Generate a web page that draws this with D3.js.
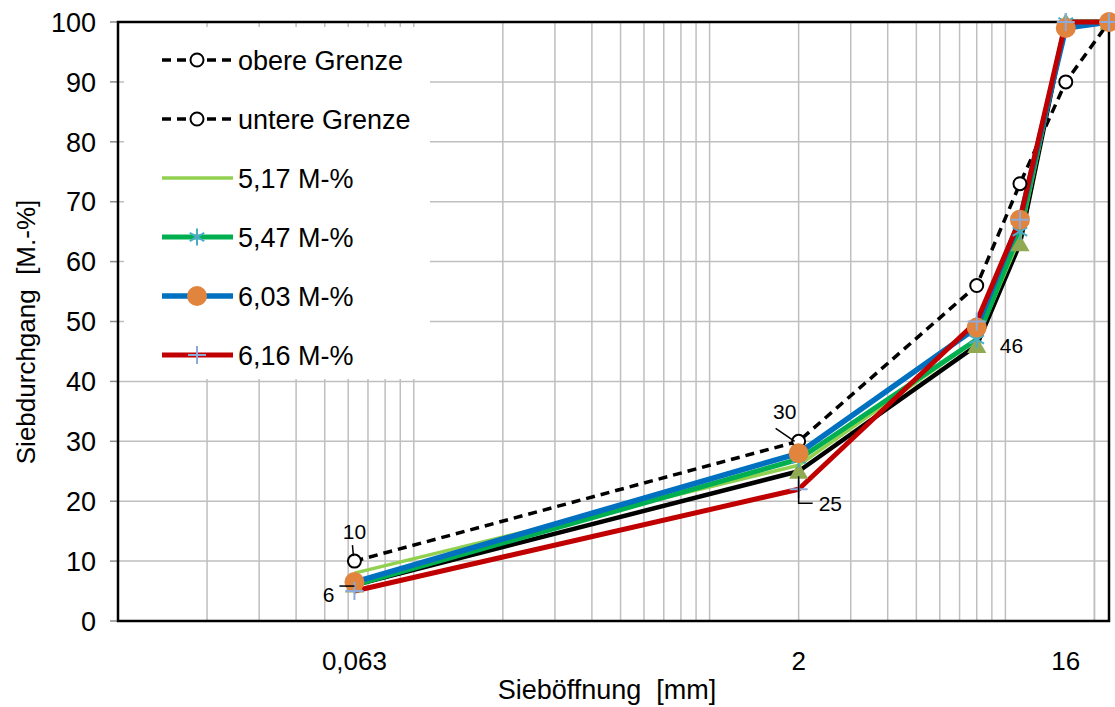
<!DOCTYPE html>
<html>
<head>
<meta charset="utf-8">
<script src="https://cdn.jsdelivr.net/npm/d3@7"></script>
<style>
  body { margin: 0; background: #fff; }
  text { font-family: "Liberation Sans", Arial, sans-serif; fill: #000; }
</style>
</head>
<body>
<div id="chart"></div>
<script>
// sieve sizes [mm] and passing [M.-%]
const sieves = [0.063, 2, 8, 11.2, 16, 22.4];
const obereGrenze = [10, 30, 56, 73, 90, 100];
const untereGrenze = [6, 25, 46, 63, 100, 100];
const s517 = [8, 26, 47, 64, 100, 100];
const s547 = [6, 27, 47, 65, 100, 100];
const s603 = [6.5, 28, 49, 67, 99, 100];
const s616 = [5, 22, 50, 67, 100, 100];
const xTickValues = [0.063, 2, 16];
const xTickLabels = ["0,063", "2", "16"];
const yTickValues = d3.range(0, 101, 10);

const width = 1115, height = 707;
const margin = { left: 118, right: 6, top: 22, bottom: 86 };

const svg = d3.select("#chart").append("svg")
  .attr("width", width)
  .attr("height", height);

const x = d3.scaleLog()
  .domain([0.01, 22.4])
  .range([margin.left, width - margin.right]);
const y = d3.scaleLinear()
  .domain([0, 100])
  .range([height - margin.bottom, margin.top]);

// gridlines
const minor = [];
[0.01, 0.1, 1, 10].forEach(dec => {
  for (let k = 1; k <= 9; k++) {
    const v = +(dec * k).toPrecision(3);
    if (v > 0.01 && v < 22.4) minor.push(v);
  }
});
minor.push(20);

svg.append("g").selectAll("line")
  .data(minor)
  .enter().append("line")
  .attr("x1", d => x(d)).attr("x2", d => x(d))
  .attr("y1", y(0)).attr("y2", y(100))
  .attr("stroke", "#bfbfbf").attr("stroke-width", 1.5);

svg.append("g").selectAll("line")
  .data(yTickValues.filter(d => d > 0 && d < 100))
  .enter().append("line")
  .attr("x1", x.range()[0]).attr("x2", x.range()[1])
  .attr("y1", d => y(d)).attr("y2", d => y(d))
  .attr("stroke", "#bfbfbf").attr("stroke-width", 1.5);

// y ticks and labels
svg.append("g").selectAll("line")
  .data(yTickValues)
  .enter().append("line")
  .attr("x1", margin.left - 8).attr("x2", margin.left)
  .attr("y1", d => y(d)).attr("y2", d => y(d))
  .attr("stroke", "#8c8c8c").attr("stroke-width", 1.5);

svg.append("g").selectAll("text")
  .data(yTickValues)
  .enter().append("text")
  .attr("x", 96)
  .attr("y", d => y(d))
  .attr("dy", "0.36em")
  .attr("text-anchor", "end")
  .attr("font-size", "27px")
  .text(d => d);

// x labels
svg.append("g").selectAll("text")
  .data(xTickValues)
  .enter().append("text")
  .attr("x", d => x(d))
  .attr("y", 670)
  .attr("text-anchor", "middle")
  .attr("font-size", "26px")
  .text((d, i) => xTickLabels[i]);

// plot border
svg.append("rect")
  .attr("x", x.range()[0]).attr("y", y(100))
  .attr("width", x.range()[1] - x.range()[0])
  .attr("height", y(0) - y(100))
  .attr("fill", "none")
  .attr("stroke", "#000").attr("stroke-width", 2.5);

// axis titles
svg.append("text")
  .attr("x", 607).attr("y", 699)
  .attr("text-anchor", "middle")
  .attr("font-size", "27px")
  .style("white-space", "pre")
  .text("Sieböffnung  [mm]");

svg.append("text")
  .attr("transform", "translate(35,332) rotate(-90)")
  .attr("text-anchor", "middle")
  .attr("font-size", "26px")
  .style("white-space", "pre")
  .text("Siebdurchgang  [M.-%]");

// legend background
svg.append("rect")
  .attr("x", 124).attr("y", 27)
  .attr("width", 306).attr("height", 352)
  .attr("fill", "#fff");

const line = d3.line()
  .x(d => x(d[0]))
  .y(d => y(d[1]));

const zip = vals => sieves.map((s, i) => [s, vals[i]]);

const triangle = d3.symbol().type(d3.symbolTriangle).size(160);
const star = d3.symbol().type(d3.symbolAsterisk).size(200);

function drawMarker(g, kind, cx, cy) {
  if (kind === "openCircle") {
    g.append("circle").attr("cx", cx).attr("cy", cy).attr("r", 6.5)
      .attr("fill", "#fff").attr("stroke", "#000").attr("stroke-width", 2);
  } else if (kind === "triangle") {
    g.append("path").attr("d", triangle)
      .attr("transform", `translate(${cx},${cy + 2})`)
      .attr("fill", "#8faa52");
  } else if (kind === "star") {
    g.append("path").attr("d", star)
      .attr("transform", `translate(${cx},${cy})`)
      .attr("fill", "none").attr("stroke", "#4bacc6").attr("stroke-width", 2);
  } else if (kind === "orange") {
    g.append("circle").attr("cx", cx).attr("cy", cy).attr("r", 10)
      .attr("fill", "#e0843e");
  } else if (kind === "cross") {
    g.append("path").attr("d", `M${cx - 9},${cy}H${cx + 9}M${cx},${cy - 9}V${cy + 9}`)
      .attr("stroke", "#8eaad8").attr("stroke-width", 2);
  }
}

const series = [
  { name: "obere Grenze", vals: obereGrenze, color: "#000", w: 3.5, dash: "9,6", marker: "openCircle", legendDash: true },
  { name: "untere Grenze", vals: untereGrenze, color: "#000", w: 4.5, dash: null, marker: "triangle", legendDash: true },
  { name: "5,17 M-%", vals: s517, color: "#92d050", w: 3.5, dash: null, marker: null },
  { name: "5,47 M-%", vals: s547, color: "#00b050", w: 5, dash: null, marker: "star" },
  { name: "6,03 M-%", vals: s603, color: "#0070c0", w: 5.5, dash: null, marker: "orange" },
  { name: "6,16 M-%", vals: s616, color: "#c00000", w: 5, dash: null, marker: "cross" }
];

const plot = svg.append("g");
series.forEach(s => {
  plot.append("path")
    .datum(zip(s.vals))
    .attr("d", line)
    .attr("fill", "none")
    .attr("stroke", s.color)
    .attr("stroke-width", s.w)
    .attr("stroke-linejoin", "round")
    .attr("stroke-dasharray", s.dash);
});
series.forEach(s => {
  if (!s.marker) return;
  zip(s.vals).forEach(d => drawMarker(plot, s.marker, x(d[0]), y(d[1])));
});

// data labels
const labels = svg.append("g");
const lab = (t, lx, ly, anchor) => labels.append("text")
  .attr("x", lx).attr("y", ly).attr("text-anchor", anchor || "start")
  .attr("font-size", "21px").text(t);
const leader = pts => labels.append("path")
  .attr("d", d3.line()(pts))
  .attr("fill", "none").attr("stroke", "#000").attr("stroke-width", 1.5);

lab("10", x(0.063), y(10) - 22, "middle");
leader([[x(0.063) - 2, y(10) - 16], [x(0.063) - 1, y(10) - 5]]);
lab("6", x(0.063) - 20, y(6) + 17, "end");
leader([[x(0.063) - 15, y(6) + 1], [x(0.063), y(6) + 1]]);
lab("30", x(2) - 14, y(30) - 22, "middle");
leader([[x(2) - 23, y(30) - 13], [x(2) - 4, y(30)]]);
lab("25", x(2) + 20, y(25) + 40);
leader([[x(2), y(25) + 5], [x(2), y(25) + 32], [x(2) + 14, y(25) + 32]]);
lab("46", x(8) + 23, y(46) + 8);

// legend
const legend = svg.append("g");
series.forEach((s, i) => {
  const ly = 60 + i * 59;
  legend.append("line")
    .attr("x1", 162).attr("x2", 233)
    .attr("y1", ly).attr("y2", ly)
    .attr("stroke", s.color)
    .attr("stroke-width", s.legendDash ? 3.5 : s.w)
    .attr("stroke-dasharray", s.legendDash ? "9,6" : null);
  drawMarker(legend, s.legendDash ? "openCircle" : s.marker, 197, ly);
  legend.append("text")
    .attr("x", 238).attr("y", ly)
    .attr("dy", "0.36em")
    .attr("font-size", "27px")
    .text(s.name);
});
</script>
</body>
</html>
